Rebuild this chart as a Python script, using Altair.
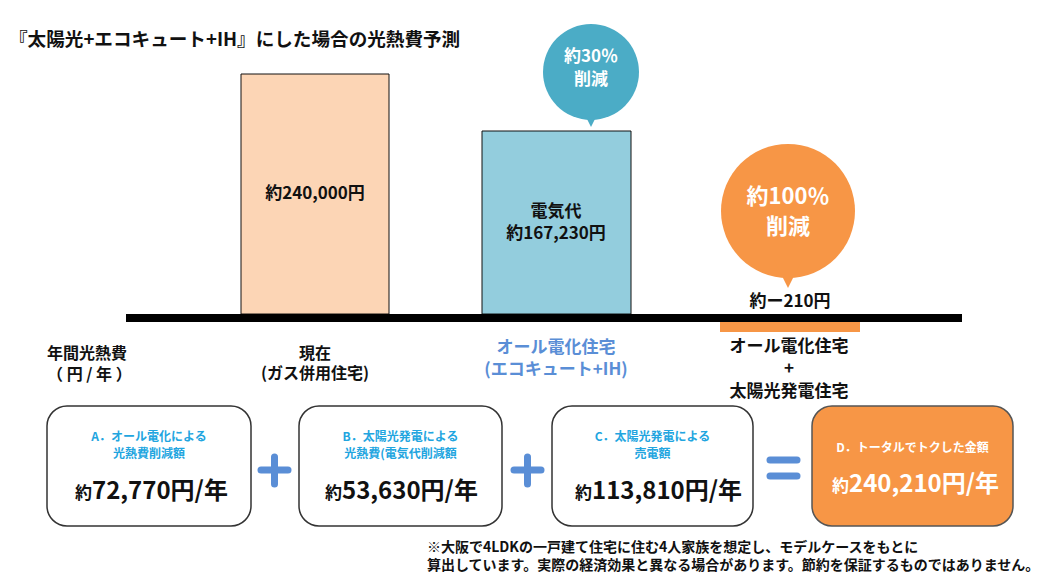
import altair as alt
import pandas as pd

FONT = "Noto Sans CJK JP"

# ---------------- data (content) ----------------
title = "『太陽光+エコキュート+IH』にした場合の光熱費予測"
bar_names = ["現在", "オール電化住宅", "太陽光発電住宅"]
bar_lengths = [240000, 183000]          # bar lengths as drawn (yen scale of the picture)
minus_bar_length = [-18000]             # small negative bar under the axis line
bar_label_1 = ["約240,000円"]
bar_label_2 = ["電気代", "約167,230円"]
bar_label_3 = ["約ー210円"]
bubble1_text = ["約30％", "削減"]
bubble2_text = ["約100％", "削減"]
row_label = ["年間光熱費", "（ 円 / 年 ）"]
col1_label = ["現在", "(ガス併用住宅)"]
col2_label = ["オール電化住宅", "(エコキュート+IH)"]
col3_label = ["オール電化住宅", "+", "太陽光発電住宅"]
box_titles = [
    ["A．オール電化による", "光熱費削減額"],
    ["B．太陽光発電による", "光熱費(電気代削減額"],
    ["C．太陽光発電による", "売電額"],
]
box_d_title = ["D．トータルでトクした金額"]
box_prefix = "約"
box_values = ["72,770円/年", "53,630円/年", "113,810円/年"]
box_d_value = ["240,210円/年"]
footnote = [
    "※大阪で4LDKの一戸建て住宅に住む4人家族を想定し、モデルケースをもとに",
    "算出しています。実際の経済効果と異なる場合があります。節約を保証するものではありません。",
]

# ---------------- layout (page pixel coordinates) ----------------
W, H = 1034, 568
X = alt.Scale(domain=[8, 8 + W], nice=False, zero=False)
Y = alt.Scale(domain=[8, 8 + H], nice=False, zero=False, reverse=True)
# bar value scale: 0 at the axis line (y=314), 1 px = 1000 yen
BY = alt.Scale(domain=[(314 - 8 - H) * 1000, (314 - 8) * 1000], nice=False, zero=False)

bar_x0 = [241, 482]
bar_x1 = [389, 631]
bar_colors = ["#FCD5B5", "#93CDDD"]
ORANGE = "#F79646"
TEAL = "#4BACC6"
BLUE = "#5A8ED6"
CYAN = "#22A5DF"


def xq(f="x"):
    return alt.X(f"{f}:Q", scale=X, axis=None)


def yq(f="y"):
    return alt.Y(f"{f}:Q", scale=Y, axis=None)


def text_layer(xs, ys, texts, size, color="#111111", align="center",
               baseline="middle", weight="bold"):
    df = pd.DataFrame({"x": xs, "y": ys, "t": texts})
    return alt.Chart(df).mark_text(
        font=FONT, fontSize=size, color=color, align=align,
        baseline=baseline, fontWeight=weight
    ).encode(x=xq(), y=yq(), text="t:N")


layers = []

# bars
bars_df = pd.DataFrame({"name": bar_names[:2], "x0": bar_x0, "x1": bar_x1,
                        "v": bar_lengths, "c": bar_colors})
layers.append(
    alt.Chart(bars_df).mark_rect(stroke="#111111", strokeWidth=1).encode(
        x=xq("x0"), x2="x1:Q",
        y=alt.Y("v:Q", scale=BY, axis=None), y2=alt.datum(0),
        color=alt.Color("c:N", scale=None))
)
minus_df = pd.DataFrame({"name": bar_names[2:], "x0": [720], "x1": [860], "v": minus_bar_length})
layers.append(
    alt.Chart(minus_df).mark_rect(color=ORANGE).encode(
        x=xq("x0"), x2="x1:Q",
        y=alt.Y("v:Q", scale=BY, axis=None), y2=alt.datum(0))
)

# axis line
line_df = pd.DataFrame({"x": [126], "x2": [962], "y": [318]})
layers.append(
    alt.Chart(line_df).mark_rule(color="#000000", strokeWidth=8).encode(
        x=xq(), x2="x2:Q", y=yq())
)

# speech bubbles
circ_df = pd.DataFrame({"x": [591, 788], "y": [72, 211], "s": [96 ** 2, 134 ** 2],
                        "c": [TEAL, ORANGE]})
layers.append(
    alt.Chart(circ_df).mark_point(shape="circle", filled=True, opacity=1, strokeWidth=0).encode(
        x=xq(), y=yq(), size=alt.Size("s:Q", scale=None), color=alt.Color("c:N", scale=None))
)
tri_df = pd.DataFrame({"x": [591, 788], "y": [116, 274], "s": [22 ** 2, 28 ** 2],
                       "c": [TEAL, ORANGE]})
layers.append(
    alt.Chart(tri_df).mark_point(shape="M-1,-1L1,-1L0,1Z", filled=True, opacity=1, strokeWidth=0).encode(
        x=xq(), y=yq(), size=alt.Size("s:Q", scale=None), color=alt.Color("c:N", scale=None))
)

# boxes
box_df = pd.DataFrame({"x": [47, 299, 552], "x2": [251, 502, 753], "y": [406] * 3, "y2": [526] * 3})
layers.append(
    alt.Chart(box_df).mark_rect(fill="white", stroke="#333333", strokeWidth=1.5, cornerRadius=20).encode(
        x=xq(), x2="x2:Q", y=yq(), y2="y2:Q")
)
boxd_df = pd.DataFrame({"x": [812], "x2": [1013], "y": [406], "y2": [526]})
layers.append(
    alt.Chart(boxd_df).mark_rect(fill=ORANGE, stroke="#555555", strokeWidth=1.5, cornerRadius=20).encode(
        x=xq(), x2="x2:Q", y=yq(), y2="y2:Q")
)

# plus and equal signs
sign_h = pd.DataFrame({"x": [261, 514, 770, 770], "x2": [288, 541, 797, 797], "y": [470, 470, 460, 476]})
layers.append(
    alt.Chart(sign_h).mark_rule(color=BLUE, strokeWidth=7, strokeCap="round").encode(
        x=xq(), x2="x2:Q", y=yq())
)
sign_v = pd.DataFrame({"x": [274.5, 527.5], "y": [457, 457], "y2": [484, 484]})
layers.append(
    alt.Chart(sign_v).mark_rule(color=BLUE, strokeWidth=7, strokeCap="round").encode(
        x=xq(), y=yq(), y2="y2:Q")
)

# texts
layers.append(text_layer([9], [40], [title], 18.6, align="left"))
layers.append(text_layer([315], [194], bar_label_1, 17))
layers.append(text_layer([556, 556], [212, 234], bar_label_2, 17))
layers.append(text_layer([790], [302], bar_label_3, 17))
layers.append(text_layer([591, 591], [57, 80], bubble1_text, 17, color="white"))
layers.append(text_layer([788, 788], [197, 227], bubble2_text, 22, color="white"))
layers.append(text_layer([47, 47], [354, 375], row_label, 16, align="left"))
layers.append(text_layer([315, 315], [354, 374], col1_label, 16))
layers.append(text_layer([556, 556], [348, 370], col2_label, 17, color=BLUE))
layers.append(text_layer([789, 789, 789], [347, 369, 392], col3_label, 17))

box_cx = [149, 400.5, 652.5]
tx, ty, tt = [], [], []
for cx, lines in zip(box_cx, box_titles):
    for i, line in enumerate(lines):
        tx.append(cx)
        ty.append(437 + 17 * i)
        tt.append(line)
layers.append(text_layer(tx, ty, tt, 12, color=CYAN))
layers.append(text_layer([912.5], [448], box_d_title, 12, color="white"))

split_x = [92, 342, 592]
layers.append(text_layer(split_x, [499] * 3, [box_prefix] * 3, 17, align="right", baseline="alphabetic"))
layers.append(text_layer(split_x, [499] * 3, box_values, 24, align="left", baseline="alphabetic"))
layers.append(text_layer([849], [492], [box_prefix], 17, color="white", align="right", baseline="alphabetic"))
layers.append(text_layer([849], [492], box_d_value, 24, color="white", align="left", baseline="alphabetic"))

layers.append(text_layer([427, 427], [548, 566], footnote, 14, align="left"))

chart = alt.layer(*layers).resolve_scale(y="independent", color="independent", size="independent").properties(
    width=W, height=H, padding=0, autosize=alt.AutoSizeParams(type="none"), background="white"
).configure_view(stroke=None)

chart.save("out.html", embed_options={"renderer": "svg", "actions": False})
